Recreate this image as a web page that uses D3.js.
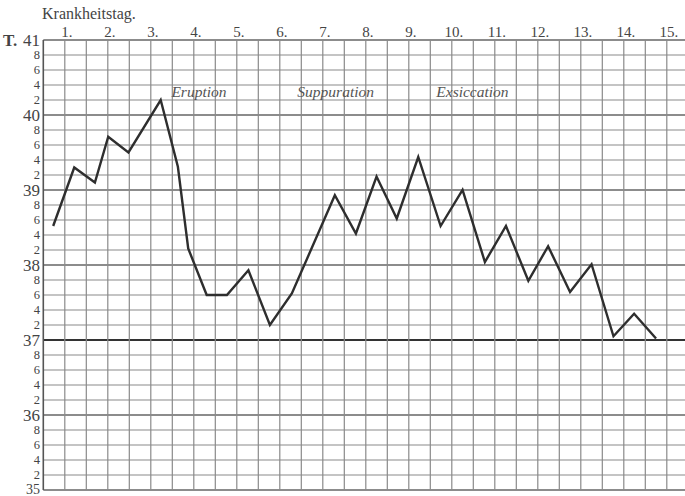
<!DOCTYPE html>
<html><head><meta charset="utf-8">
<script src="https://cdn.jsdelivr.net/npm/d3@7"></script>
</head><body>
<script>
// Data: time in days since start of illness (fractional), temperature °C
const times = [0.23,0.72,1.20,1.51,1.98,2.73,3.13,3.37,3.80,4.27,4.77,5.27,5.78,6.78,7.27,7.75,8.22,8.72,9.24,9.75,10.27,10.76,11.28,11.74,12.25,12.75,13.26,13.74,14.25];
const temps = [38.52,39.30,39.10,39.71,39.50,40.20,39.31,38.22,37.60,37.60,37.93,37.20,37.62,38.93,38.42,39.18,38.62,39.44,38.52,39.00,38.04,38.52,37.79,38.25,37.64,38.01,37.05,37.35,37.02];
const dayLabels = ["1.","2.","3.","4.","5.","6.","7.","8.","9.","10.","11.","12.","13.","14.","15."];
const phaseNames = ["Eruption","Suppuration","Exsiccation"];
const phaseDays = [3.62,6.80,9.98];

d3.select("body").style("margin","0px").style("background","#fff");
const W=685,H=496;
const serif = '"Liberation Serif", serif';
const x = d3.scaleLinear().domain([0,15]).range([43.3,688.3]);
const y = d3.scaleLinear().domain([35,41]).range([490,40]);
const svg = d3.select("body").append("svg").attr("width",W).attr("height",H).style("display","block");

// grid
const hvals = d3.range(0,31).map(i=>35+i*0.2);
svg.append("g").selectAll("line").data(hvals).join("line")
  .attr("x1",x(0)).attr("x2",W).attr("y1",d=>y(d)).attr("y2",d=>y(d))
  .attr("stroke",d=>Math.abs(d-37)<1e-6?"#333":(Math.abs(d-Math.round(d))<1e-6?"#666":"#8a8a8a"))
  .attr("stroke-width",d=>Math.abs(d-37)<1e-6?2.2:(Math.abs(d-Math.round(d))<1e-6?1.5:1.1));
const vvals = d3.range(0,31).map(i=>i*0.5);
svg.append("g").selectAll("line").data(vvals).join("line")
  .attr("x1",d=>x(d)).attr("x2",d=>x(d)).attr("y1",y(41)).attr("y2",y(35))
  .attr("stroke",d=>d===0?"#555":"#8a8a8a").attr("stroke-width",d=>d===0?1.6:1.2);

// y labels
hvals.forEach((v,i)=>{
  const isInt = Math.abs(v-Math.round(v))<1e-6;
  const txt = isInt ? String(Math.round(v)) : String(Math.round((v-Math.floor(v+1e-6))*10));
  svg.append("text").attr("x",40).attr("y",i===0?494:y(v)).attr("dy",i===0?0:"0.35em")
    .attr("text-anchor","end").attr("fill","#444")
    .attr("font-family",serif).style("font-family",serif)
    .attr("font-size",i===0?14:(isInt?17:12.5)).text(txt);
});
svg.append("text").attr("x",3).attr("y",y(41)).attr("dy","0.35em")
  .attr("font-family",serif).style("font-family",serif)
  .attr("font-size",17).attr("font-weight","bold").attr("fill","#444").text("T.");

// day labels
dayLabels.forEach((d,i)=>{
  svg.append("text").attr("x",x(i+0.5)+2).attr("y",37).attr("text-anchor","middle")
    .attr("font-family",serif).style("font-family",serif)
    .attr("font-size",15).attr("fill","#444").text(d);
});
svg.append("text").attr("x",42).attr("y",19).attr("font-size",16)
  .attr("font-family",serif).style("font-family",serif)
  .attr("fill","#444").text("Krankheitstag.");

// phases
phaseNames.forEach((d,i)=>{
  svg.append("text").attr("x",x(phaseDays[i])).attr("y",97).attr("text-anchor","middle")
    .attr("font-family",serif).style("font-family",serif)
    .attr("font-style","italic").attr("font-size",15.5)
    .attr("fill","#555").text(d);
});

// curve
const pts = times.map((t,i)=>[t,temps[i]]);
svg.append("path").datum(pts)
  .attr("d",d3.line().x(d=>x(d[0])).y(d=>y(d[1])))
  .attr("fill","none").attr("stroke","#2e2e2e").attr("stroke-width",2.4).attr("stroke-linejoin","miter");
</script>
</body></html>
